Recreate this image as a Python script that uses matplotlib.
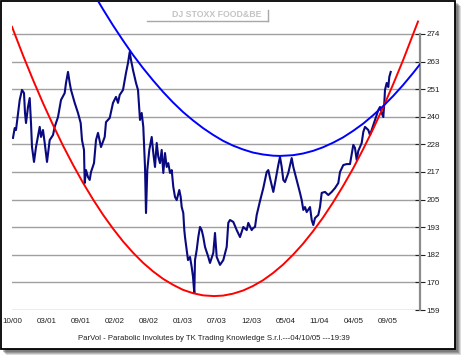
import matplotlib
matplotlib.use("Agg")
import matplotlib.pyplot as plt
from matplotlib.patches import Rectangle
from matplotlib.lines import Line2D

plt.rcParams['font.family'] = ['Liberation Sans', 'DejaVu Sans']

# ---- data (x = bar index, y = index value) ----
price_t = [0, 1.7, 3, 6.7, 9, 11, 12, 13, 15, 16.7, 18, 19, 21, 23, 26.7, 28, 30, 31.7, 34, 36.7,
           40, 41.7, 45, 48, 51.7, 53, 55, 56.7, 58, 61.7, 65, 67.7, 69, 71, 71.7, 73, 75, 76.7, 78, 81,
           83, 85, 88, 91.7, 93, 96.7, 100, 103, 105, 106.7, 110, 111.7, 113, 115, 116.7, 118, 120, 123, 125, 127,
           128.7, 130.3, 132, 133, 134.3, 136.3, 138.7, 140.3, 142, 143.7, 145.3, 147, 148.7, 150.3, 152, 153.7, 155.3, 157, 158.7, 160.3,
           162, 163.7, 166.3, 167.7, 168.7, 170.3, 171.3, 172, 173.7, 175, 177, 178.7, 180, 181.3, 182, 183.7, 185.3, 187,
           188.7, 190.3, 192, 195.3, 197, 200.3, 202, 203.7, 207, 210.3, 213.7, 215.3, 217, 220.3, 223.7, 227, 230.3, 233.7,
           235.3, 238.7, 240.3, 242, 243.7, 247, 250.3, 253.7, 255.3, 257, 260.3, 262, 265.3, 267, 268.7, 270.3, 272, 275.3,
           278.7, 280.3, 283.7, 287, 288.7, 290.3, 292, 293.7, 297, 298.7, 300.3, 302, 305.3, 307, 308.7, 312, 315.3, 318.7,
           322, 325.3, 327, 330.3, 333.7, 337, 338.7, 340.3, 342, 343.7, 345.3, 348.7, 350.3, 352, 355.3, 357, 359.7, 362,
           365.3, 367, 368.7, 370.3, 371.3, 372, 373.7, 375.3, 376.3, 377.7]
price_v = [230.7, 234.8, 234.0, 246.5, 250.7, 249.4, 241.1, 236.9, 243.6, 247.3, 236.9, 226.9, 220.7, 226.9, 235.3, 231.1, 234.0, 228.6, 220.7, 229.8,
           231.9, 235.3, 239.4, 246.5, 249.4, 253.6, 258.2, 253.6, 250.7, 245.3, 241.1, 236.9, 229.8, 225.7, 211.9, 217.3, 214.4, 213.2, 216.5, 220.2,
           229.8, 232.8, 226.9, 231.1, 237.3, 239.0, 245.3, 247.8, 245.3, 248.6, 250.7, 254.8, 257.8, 261.9, 266.5, 263.2, 259.0, 253.6, 250.7, 238.2,
           241.1, 235.3, 218.6, 199.4, 217.3, 225.7, 231.1, 224.4, 218.6, 228.6, 222.8, 220.2, 225.7, 216.1, 224.4, 218.6, 220.2, 216.1, 217.3, 210.3,
           206.1, 204.8, 209.0, 206.1, 201.9, 199.4, 192.3, 189.4, 184.0, 179.8, 181.1, 176.9, 172.8, 166.1, 179.8, 184.0, 189.4, 193.6,
           192.3, 189.4, 185.3, 181.1, 178.6, 182.8, 191.1, 181.1, 177.8, 179.8, 185.3, 195.3, 196.5, 195.7, 192.3, 189.4, 193.6, 192.3,
           195.3, 192.3, 193.2, 193.6, 198.6, 204.4, 209.8, 216.5, 217.3, 214.0, 208.2, 211.9, 219.4, 222.8, 218.6, 213.2, 212.3, 216.1,
           222.3, 218.6, 213.2, 207.8, 204.8, 200.7, 201.9, 199.8, 201.9, 196.5, 194.4, 197.3, 198.6, 201.9, 207.8, 208.2, 206.9, 208.2,
           209.8, 211.9, 216.5, 219.4, 219.8, 219.8, 224.0, 227.8, 226.5, 221.5, 225.3, 228.6, 233.2, 235.3, 234.0, 231.9, 235.3, 238.2,
           242.3, 243.6, 241.1, 239.4, 245.3, 250.7, 253.6, 251.9, 256.1, 258.2]

lower_t = [-1, 10, 20, 30, 40, 50, 60, 70, 80, 90, 100, 110, 120, 130, 140, 150, 160, 170, 180, 190, 201,
           210, 220, 230, 240, 250, 260, 270, 280, 290, 300, 310, 320, 330, 340, 350, 360, 370, 380, 390, 405]
lower_v = [277.0, 265.1, 254.9, 245.2, 236.1, 227.5, 219.5, 212.0, 205.1, 198.7, 192.9, 187.6, 182.9, 178.7, 175.1,
           172.0, 169.5, 167.4, 166.0, 165.1, 164.8, 165.0, 165.8, 167.1, 169.0, 171.4, 174.4, 177.9, 182.0, 186.6,
           191.8, 197.5, 203.8, 210.6, 217.9, 225.9, 234.3, 243.3, 252.9, 263.0, 279.2]

upper_t = [84, 90, 100, 110, 120, 130, 140, 150, 160, 170, 180, 190, 200, 210, 220, 230, 240, 250, 260, 267,
           280, 290, 300, 310, 320, 330, 340, 350, 360, 370, 380, 390, 400, 407]
upper_v = [288.5, 284.3, 277.6, 271.3, 265.3, 259.8, 254.7, 249.9, 245.5, 241.5, 238.0, 234.8, 232.0, 229.5, 227.5,
           225.9, 224.6, 223.8, 223.3, 223.2, 223.5, 224.2, 225.3, 226.8, 228.7, 230.9, 233.6, 236.6, 240.1, 243.9,
           248.1, 252.7, 257.7, 261.4]

xtick_labels = ['10/00', '03/01', '09/01', '02/02', '08/02', '01/03', '07/03', '12/03', '05/04', '11/04', '04/05', '09/05']
xtick_pos = [-0.5 + 34.1 * i for i in range(len(xtick_labels))]
ytick_pos = [159 + 11.5 * i for i in range(11)]
ytick_labels = ['159', '170', '182', '193', '205', '217', '228', '240', '251', '263', '274']

title = 'DJ STOXX FOOD&BE'
footer = 'ParVol - Parabolic Involutes by TK Trading Knowledge S.r.l.---04/10/05 ---19:39'

# ---- figure ----
W, H = 463, 359
fig = plt.figure(figsize=(W / 100, H / 100), dpi=100)
fig.patch.set_facecolor('white')

bg = fig.add_axes([0, 0, 1, 1])
bg.set_xlim(0, W)
bg.set_ylim(H, 0)
bg.axis('off')
# shadow
for off, a in [(6, 0.18), (5, 0.22), (4, 0.28), (3, 0.3)]:
    bg.add_patch(Rectangle((off, off), 455, 349, facecolor='#404040', edgecolor='none', alpha=a, zorder=1))
bg.add_patch(Rectangle((0.5, 0.5), 454, 348.5, facecolor='white', edgecolor='black', lw=1.3, zorder=2))
# title box
bg.add_line(Line2D([147, 268], [21, 21], color='#a8a8a8', lw=1, zorder=3))
bg.add_line(Line2D([268, 268], [10, 21], color='#a8a8a8', lw=1, zorder=3))
bg.text(216.7, 14.8, title, ha='center', va='center', fontsize=6.3, fontweight='bold', color='#c4c4c4', zorder=3)
bg.text(214, 339, footer, ha='center', va='center', fontsize=5.6, color='#202020', zorder=3)

ax = fig.add_axes([12 / W, 1 - 310 / H, 408 / W, 309 / H])
ax.patch.set_alpha(0)
ax.set_xlim(-1, 407)
ax.set_ylim(159, 287.75)
for s in ['top', 'left', 'bottom']:
    ax.spines[s].set_visible(False)
ax.spines['right'].set_bounds(159, 274)
ax.spines['right'].set_color('#8c8c8c')
ax.spines['right'].set_linewidth(1.6)
ax.yaxis.tick_right()
ax.set_yticks(ytick_pos)
ax.set_yticklabels(ytick_labels)
ax.set_xticks(xtick_pos)
ax.set_xticklabels(xtick_labels)
ax.tick_params(axis='y', direction='inout', length=6.5, width=0.8, color='#202020', pad=1.5,
               labelsize=5.8, labelcolor='#202020')
ax.tick_params(axis='x', length=0, pad=5.5, labelsize=5.8, labelcolor='#202020')
ax.grid(axis='y', color='#a0a0a0', lw=1)
ax.set_axisbelow(True)

ax.plot(price_t, price_v, color='#0a0a80', lw=1.5, zorder=3)
ax.plot(lower_t, lower_v, color='#ff0000', lw=1.4, zorder=4)
ax.plot(upper_t, upper_v, color='#0000ff', lw=1.4, zorder=5)

fig.savefig('out.png', dpi=100, facecolor='white')
